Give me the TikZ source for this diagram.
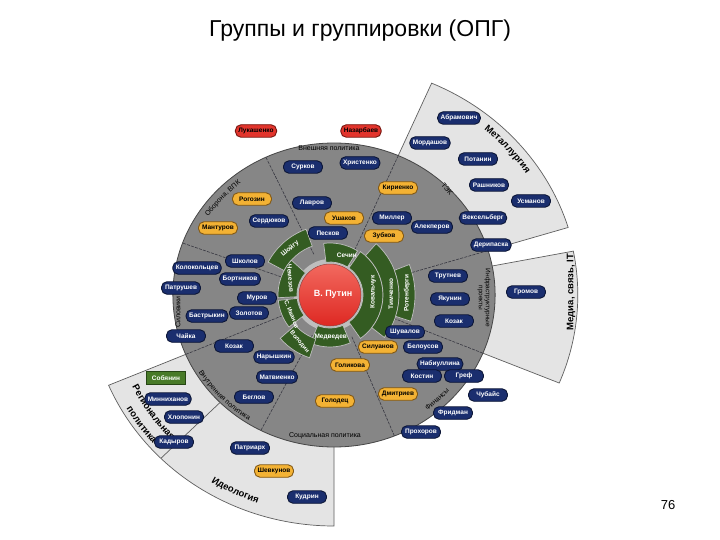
\documentclass[tikz,border=0pt]{standalone}
\usepackage{fontspec}
\setmainfont{Liberation Sans}
\usetikzlibrary{decorations.text}
\definecolor{navy}{RGB}{26,46,110}
\definecolor{navyd}{RGB}{12,22,55}
\definecolor{gold}{RGB}{243,178,52}
\definecolor{goldd}{RGB}{130,88,20}
\definecolor{redp}{RGB}{226,52,44}
\definecolor{redd}{RGB}{120,22,16}
\definecolor{greenp}{RGB}{72,122,40}
\definecolor{greend}{RGB}{38,70,20}
\definecolor{ringgreen}{RGB}{52,92,34}
\definecolor{diskgray}{RGB}{134,134,134}
\definecolor{diskedge}{RGB}{70,70,70}
\definecolor{wedgegray}{RGB}{228,228,228}
\definecolor{wedgeedge}{RGB}{95,95,95}
\definecolor{divc}{RGB}{55,55,65}
\definecolor{lring}{RGB}{190,190,190}
\definecolor{putinred}{RGB}{222,40,34}
\definecolor{putinlight}{RGB}{242,105,95}
\newcommand\bigfnt{\fontsize{9.5}{10}\selectfont\bfseries}
\newcommand\secfnt{\fontsize{7}{8}\selectfont}
\begin{document}
\begin{tikzpicture}[x=1pt,y=1pt,
  np/.style={rounded corners=5.5pt, fill=navy, draw=navyd, line width=0.9pt, text=white,
    font=\fontsize{6.5}{7.5}\selectfont\bfseries, minimum height=12.5pt, minimum width=39pt,
    inner xsep=3pt, inner ysep=1pt},
  op/.style={np, fill=gold, draw=goldd, text=black},
  rp/.style={np, fill=redp, draw=redd, text=black},
  gp/.style={np, rounded corners=0pt, fill=greenp, draw=greend},
  sec/.style={font=\secfnt, text=black, inner sep=0pt},
  big/.style={font=\bigfnt, text=black, inner sep=0pt},
  rl/.style={text=white, font=\fontsize{6.5}{7.5}\selectfont\bfseries, inner sep=0pt},
  rls/.style={rl, font=\fontsize{6}{7}\selectfont\bfseries},
  divl/.style={draw=divc, line width=0.6pt, dash pattern=on 3pt off 1.2pt},
  wedgepart/.style={fill=wedgegray, draw=wedgeedge, line width=0.7pt},
  ringseg/.style={fill=ringgreen, draw=lring, line width=0.7pt},
  gseg/.style n args={4}{insert path={(#3:#2) arc[start angle=#3, end angle=#4, radius=#2] -- (#4:#1) arc[start angle=#4, end angle=#3, radius=#1] -- cycle}},
  curvtxt/.style={decorate, decoration={text along path, text align=center, text={#1}}},
]
\useasboundingbox (0,0) rectangle (720,-540);
\fill[white] (0,0) rectangle (720,-540);

\node (title) at (360,-31) {\fontsize{23}{27}\selectfont Группы и группировки (ОПГ)};
\node (pagenum) at (668,-505) {\fontsize{13}{15}\selectfont 76};

% ---------- disk and outer wedges ----------
\begin{scope}[shift={(334,-295)}, xscale=1.06]
  \path[wedgepart] (17:140) -- (17:231) arc[start angle=17, end angle=66.5, radius=231] -- (66.5:140) -- cycle;
  \path[wedgepart] (-22.5:140) -- (-22.5:230) arc[start angle=-22.5, end angle=11, radius=230] -- (11:140) -- cycle;
  \path[wedgepart] (203:140) -- (203:231) arc[start angle=203, end angle=270, radius=231] -- (270:140) -- cycle;
  \draw[wedgeedge, line width=0.7pt] (225:150) -- (225:231);
  \fill[diskgray, draw=diskedge, line width=0.8pt] (0,0) circle[radius=152];
  \foreach \a in {115,66.5,17,-22.5,-68,-117,203,160}
    \draw[divl] (\a:45) -- (\a:152);
\end{scope}

% ---------- curved labels ----------
\begin{scope}[shift={(334,-295)}]
  \path[curvtxt={|\bigfnt|Металлургия}] (56:231 and 218) arc[start angle=56, end angle=27, x radius=231, y radius=218];
  \path[curvtxt={|\bigfnt|Региональная}] (198:224 and 211.5) arc[start angle=198, end angle=231, x radius=224, y radius=211.5];
  \path[curvtxt={|\bigfnt|политика}] (200:240 and 226.5) arc[start angle=200, end angle=231, x radius=240, y radius=226.5];
  \path[curvtxt={|\bigfnt|Идеология}] (230:233.2 and 220) arc[start angle=230, end angle=259, x radius=233.2, y radius=220];
  \path[curvtxt={|\secfnt|Внутренняя политика}] (200:158 and 149) arc[start angle=200, end angle=248, x radius=158, y radius=149];
  \path[curvtxt={|\secfnt|Оборона, ВПК}] (157:150.5 and 142) arc[start angle=157, end angle=118, x radius=150.5, y radius=142];
  \path[curvtxt={|\secfnt|Финансы}] (-62:154 and 145) arc[start angle=-62, end angle=-32, x radius=154, y radius=145];
\end{scope}

% ---------- inner core ----------
\begin{scope}[shift={(330,-295)}]
  \fill[lring] (0,0) circle[radius=36];
  \path[ringseg, gseg={33}{52}{58}{97}];
  \path[ringseg, gseg={33}{53}{-55}{55}];
  \path[ringseg, gseg={53}{69}{-38}{48}];
  \path[ringseg, gseg={69}{85}{-18}{21}];
  \path[ringseg, gseg={33}{52}{248}{293}];
  \path[ringseg, gseg={52}{70}{110}{152}];
  \path[ringseg, gseg={33}{52}{138}{183}];
  \path[ringseg, gseg={33}{52}{186}{218}];
  \path[ringseg, gseg={46}{66}{221}{252}];
  \shade[top color=putinlight, bottom color=putinred, draw=redd!80, line width=0.5pt] (0,0) circle[radius=31];
  \node[text=white, font=\fontsize{9}{10}\selectfont\bfseries] (putin) at (3,1) {В. Путин};
  \node[rl] (sechin) at (67:43) {Сечин};
  \node[rl] (medvedev) at (271:42) {Медведев};
  \node[rl, rotate=40] (shoigu) at (131:61) {Шойгу};
  \node[rl, rotate=-85] (chemezov) at (157:43) {Чемезов};
  \node[rls, rotate=-68] (ivanov) at (207:43) {С. Иванов};
  \node[rls, rotate=-50] (volodin) at (237:56) {Володин};
  \node[rl, rotate=90] (kovalchuk) at (43,3) {Ковальчук};
  \node[rl, rotate=90] (timchenko) at (61,1) {Тимченко};
  \node[rl, rotate=90] (rotenberg) at (77,2) {Ротенберги};
\end{scope}

% ---------- straight sector labels ----------
\node[sec] (lvp) at (329,-148) {Внешняя политика};
\node[sec, rotate=-50] (ltek) at (447,-189) {ТЭК};
\node[sec, rotate=-90, align=center, font=\fontsize{6.5}{7}\selectfont] (linf) at (484,-298) {Инфраструктурные\\проекты};
\node[sec] (lsoc) at (325,-436) {Социальная политика};
\node[sec, rotate=90] (lsil) at (178,-312) {Силовики};
\node[big, rotate=90] (lmed) at (571,-292) {Медиа, связь, IT};

% ---------- pills ----------
\node[rp] (lukash) at (256,-131) {Лукашенко};
\node[rp] (nazar) at (361,-131) {Назарбаев};

\node[np] (surkov) at (303,-167) {Сурков};
\node[np] (khrist) at (360,-163) {Христенко};
\node[np] (lavrov) at (312,-203) {Лавров};
\node[op] (ushakov) at (344,-218) {Ушаков};
\node[np] (peskov) at (328,-233) {Песков};

\node[op] (rogozin) at (252,-199) {Рогозин};
\node[np] (serd) at (269,-221) {Сердюков};
\node[op] (mantur) at (218,-228) {Мантуров};

\node[op] (kirienko) at (398,-188) {Кириенко};
\node[np] (miller) at (392,-218) {Миллер};
\node[np] (alekp) at (432,-227) {Алекперов};
\node[op] (zubkov) at (384,-236) {Зубков};

\node[np] (abram) at (459,-118) {Абрамович};
\node[np] (mordash) at (430,-143) {Мордашов};
\node[np] (potanin) at (478,-159) {Потанин};
\node[np] (rashn) at (489,-185) {Рашников};
\node[np] (usman) at (531,-201) {Усманов};
\node[np] (veksel) at (483,-218) {Вексельберг};
\node[np] (derip) at (491,-245) {Дерипаска};

\node[np] (shkolov) at (245,-261) {Школов};
\node[np] (kolok) at (197,-268) {Колокольцев};
\node[np] (bortn) at (240,-279) {Бортников};
\node[np] (patr) at (181,-288) {Патрушев};
\node[np] (murov) at (257,-298) {Муров};
\node[np] (bastr) at (207,-316) {Бастрыкин};
\node[np] (zolotov) at (249,-313) {Золотов};
\node[np] (chaika) at (186,-336) {Чайка};

\node[np] (kozak) at (234,-346) {Козак};
\node[np] (naryshk) at (274,-357) {Нарышкин};
\node[np] (matv) at (277,-377) {Матвиенко};
\node[np] (beglov) at (254,-397) {Беглов};

\node[np] (shuval) at (405,-332) {Шувалов};
\node[op] (siluan) at (378,-347) {Силуанов};
\node[np] (belous) at (423,-347) {Белоусов};
\node[op] (golik) at (350,-365) {Голикова};
\node[op] (golod) at (335,-401) {Голодец};

\node[np] (nabiul) at (440,-364) {Набиуллина};
\node[np] (kostin) at (422,-376) {Костин};
\node[np] (gref) at (464,-376) {Греф};
\node[op] (dmitr) at (398,-394) {Дмитриев};
\node[np] (chubais) at (488,-395) {Чубайс};
\node[np] (fridman) at (453,-413) {Фридман};
\node[np] (prokh) at (421,-432) {Прохоров};

\node[np] (trutnev) at (448,-276) {Трутнев};
\node[np] (yakunin) at (450,-299) {Якунин};
\node[np] (kozakb) at (454,-321) {Козак};
\node[np] (gromov) at (526,-292) {Громов};

\node[gp] (sobyan) at (166,-378) {Собянин};
\node[np] (minnikh) at (168,-399) {Минниханов};
\node[np] (khlop) at (184,-417) {Хлопонин};
\node[np] (kadyr) at (174,-442) {Кадыров};

\node[np] (patriarch) at (250,-448) {Патриарх};
\node[op] (shevk) at (274,-471) {Шевкунов};
\node[np] (kudrin) at (307,-497) {Кудрин};
\end{tikzpicture}
\end{document}
